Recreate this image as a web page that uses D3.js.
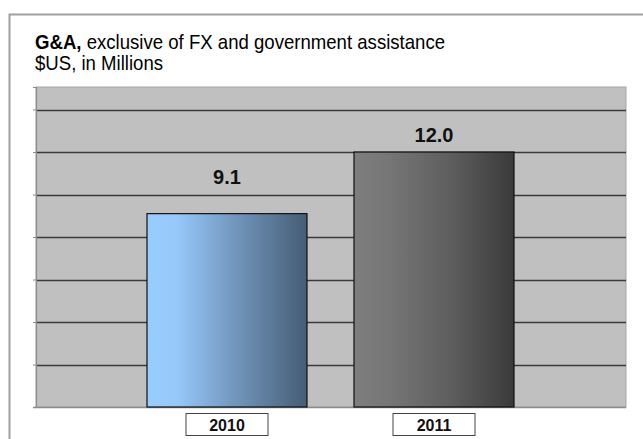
<!DOCTYPE html>
<html>
<head>
<meta charset="utf-8">
<script src="https://cdn.jsdelivr.net/npm/d3@7/dist/d3.min.js"></script>
<style>
  html, body { margin: 0; padding: 0; background: #fff; }
  svg { display: block; font-family: Arial, "Liberation Sans", sans-serif; }
</style>
</head>
<body>
<svg id="chart" width="643" height="439"></svg>
<script>
// G&A spend by year, $US millions
const years = ["2010", "2011"];
const values = [9.1, 12.0];
const yTicks = [0, 2, 4, 6, 8, 10, 12, 14];
const titleBold = "G&A,";
const titleRest = " exclusive of FX and government assistance";
const subtitle = "$US, in Millions";

const svg = d3.select("#chart");

// outer frame of the slide panel
svg.append("rect")
  .attr("x", 9.5).attr("y", 14.5)
  .attr("width", 660).attr("height", 460)
  .attr("fill", "#fff").attr("stroke", "#a0a0a0").attr("stroke-width", 2);

// title, slightly condensed
const titleG = svg.append("g").attr("transform", "translate(35,0) scale(0.93,1)");
const title = titleG.append("text").attr("x", 0).attr("y", 49)
  .attr("font-size", 20).attr("fill", "#000");
title.append("tspan").attr("font-weight", "bold").text(titleBold);
title.append("tspan").text(titleRest);
titleG.append("text").attr("x", 0).attr("y", 70)
  .attr("font-size", 20).attr("fill", "#000").text(subtitle);

// plot area
const plot = { left: 36, right: 626, top: 87, bottom: 407 };

const y = d3.scaleLinear().domain([0, 15.06]).range([plot.bottom, plot.top]);
const x = d3.scaleBand().domain(years)
  .range([123.5, 537.5]).paddingInner(0.227).paddingOuter(0.1135);

svg.append("rect")
  .attr("x", plot.left).attr("y", plot.top)
  .attr("width", plot.right - plot.left).attr("height", plot.bottom - plot.top)
  .attr("fill", "#c0c0c0").attr("stroke", "#a6a6a6").attr("stroke-width", 1);

// horizontal gridlines
svg.append("g").selectAll("line")
  .data(yTicks.filter(d => d > 0))
  .join("line")
  .attr("x1", plot.left).attr("x2", plot.right)
  .attr("y1", d => Math.round(y(d)) + 0.5).attr("y2", d => Math.round(y(d)) + 0.5)
  .attr("stroke", "#3a3a3a").attr("stroke-width", 1.3);

// value axis: tick marks only, no labels
const yAxis = svg.append("g")
  .attr("transform", `translate(${plot.left},0)`)
  .call(d3.axisLeft(y).tickValues(yTicks).tickSize(3).tickFormat(""));
yAxis.select(".domain").attr("stroke", "#8c8c8c").attr("stroke-width", 1.2);
yAxis.selectAll(".tick line").attr("stroke", "#8c8c8c");

// bottom axis line
svg.append("line")
  .attr("x1", plot.left - 3).attr("x2", plot.right)
  .attr("y1", plot.bottom + 0.5).attr("y2", plot.bottom + 0.5)
  .attr("stroke", "#8c8c8c").attr("stroke-width", 1.5);

// bar gradients
const defs = svg.append("defs");
const gradStops = [
  [["0%", "#99ccff"], ["18%", "#97c9fb"], ["55%", "#7196bd"], ["100%", "#465d75"]],
  [["0%", "#7e7e7e"], ["20%", "#777"], ["60%", "#5e5e5e"], ["100%", "#3a3a3a"]]
];
years.forEach((yr, i) => {
  const g = defs.append("linearGradient").attr("id", "grad" + yr)
    .attr("x1", "0%").attr("x2", "100%").attr("y1", "0%").attr("y2", "0%");
  gradStops[i].forEach(s => g.append("stop").attr("offset", s[0]).attr("stop-color", s[1]));
});

const rows = years.map((d, i) => ({ year: d, value: values[i], i }));

// bars
svg.append("g").selectAll("rect")
  .data(rows)
  .join("rect")
  .attr("x", d => x(d.year))
  .attr("y", d => y(d.value))
  .attr("width", x.bandwidth())
  .attr("height", d => y(0) - y(d.value))
  .attr("fill", d => `url(#grad${d.year})`)
  .attr("stroke", "#111").attr("stroke-width", 1.2);

// value labels, lifted above each bar top
const labelLift = [30, 10];
svg.append("g").selectAll("text")
  .data(rows)
  .join("text")
  .attr("x", d => x(d.year) + x.bandwidth() / 2)
  .attr("y", d => y(d.value) - labelLift[d.i])
  .attr("text-anchor", "middle")
  .attr("font-size", 20).attr("font-weight", "bold").attr("fill", "#111")
  .text(d => d.value.toFixed(1));

// category labels in boxes
const cat = svg.append("g").selectAll("g")
  .data(years).join("g")
  .attr("transform", d => `translate(${x(d) + x.bandwidth() / 2},0)`);
cat.append("rect")
  .attr("x", -41).attr("y", 413.5).attr("width", 82).attr("height", 22)
  .attr("fill", "#fff").attr("stroke", "#444").attr("stroke-width", 1);
cat.append("text")
  .attr("y", 431).attr("text-anchor", "middle")
  .attr("font-size", 16).attr("font-weight", "bold").attr("fill", "#111")
  .text(d => d);
</script>
</body>
</html>
